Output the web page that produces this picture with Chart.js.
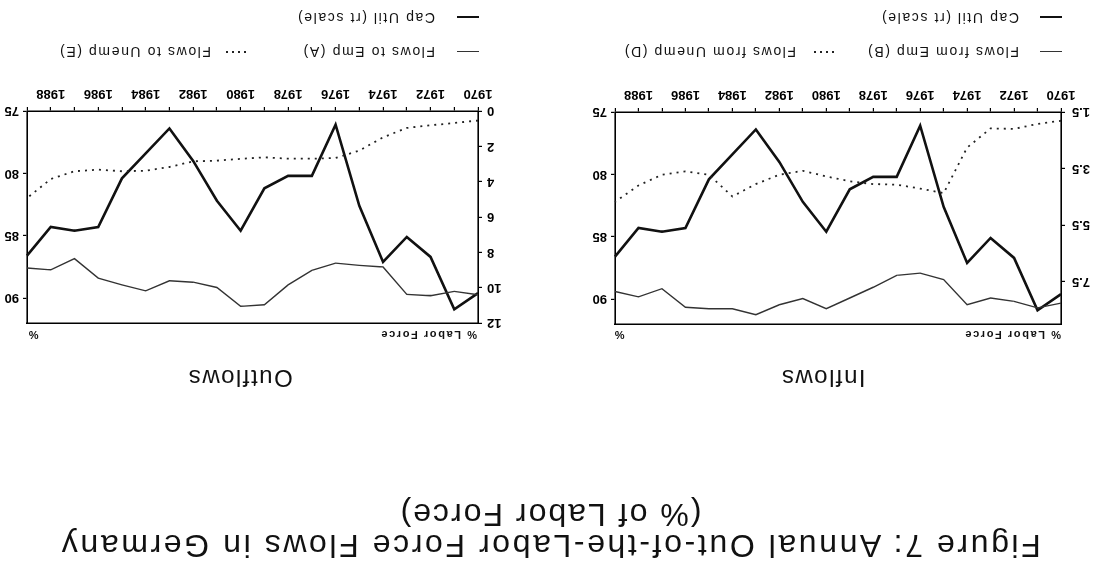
<!DOCTYPE html>
<html>
<head>
<title>Figure 7: Annual Out-of-the-Labor Force Flows in Germany</title>
<style>
body { margin: 0; background: #fff; overflow: hidden; }
/* the scanned figure is upside down, so the whole page is turned round */
#page { position: relative; width: 1100px; height: 579px; overflow: hidden; transform: rotate(180deg); font-family: "Liberation Sans", Arial, sans-serif; color: #111; }
.txt { position: absolute; white-space: nowrap; line-height: 1; }
.title { left: 0; width: 1100px; text-align: center; font-size: 32px; letter-spacing: 2px; }
.panel { width: 200px; text-align: center; font-size: 24px; letter-spacing: 1.5px; top: 189px; }
.unit { font-size: 11px; font-weight: bold; letter-spacing: 1.6px; top: 239px; }
.leg { font-size: 14px; letter-spacing: 1.6px; }
.swatch { position: absolute; width: 22px; }
.solid { height: 0; border-top: 1.5px solid #333; }
.thick { height: 0; border-top: 2.4px solid #111; }
.dots { height: 2px; width: 21px; background: repeating-linear-gradient(90deg, #222 0 2px, transparent 2px 6px); }
canvas { position: absolute; top: 240px; }
</style>
</head>
<body>
<div id="page">
    <div class="txt title" style="top: 17px; letter-spacing: 2.6px;">Figure 7: Annual Out-of-the-Labor Force Flows in Germany</div>
    <div class="txt title" style="top: 48px;">(% of Labor Force)</div>

    <div class="txt panel" style="left: 177px;">Inflows</div>
    <div class="txt panel" style="left: 760px;">Outflows</div>

    <div class="txt unit" style="left: 39px;">% Labor Force</div>
    <div class="txt unit" style="right: 613px;">%</div>
    <div class="txt unit" style="left: 623px;">% Labor Force</div>
    <div class="txt unit" style="right: 27px;">%</div>

    <canvas id="inflows" width="550" height="280" style="left: 0;"></canvas>
    <canvas id="outflows" width="550" height="280" style="left: 550px;"></canvas>

    <!-- legends -->
    <div class="swatch solid" style="left: 38px; top: 527px;"></div>
    <div class="txt leg" style="left: 81px; top: 520px;">Flows from Emp (B)</div>
    <div class="swatch dots" style="left: 266px; top: 526px;"></div>
    <div class="txt leg" style="left: 304px; top: 520px;">Flows from Unemp (D)</div>
    <div class="swatch thick" style="left: 38px; top: 561px;"></div>
    <div class="txt leg" style="left: 81px; top: 554px;">Cap Util (rt scale)</div>

    <div class="swatch solid" style="left: 621px; top: 527px;"></div>
    <div class="txt leg" style="left: 665px; top: 520px;">Flows to Emp (A)</div>
    <div class="swatch dots" style="left: 854px; top: 526px;"></div>
    <div class="txt leg" style="left: 889px; top: 520px;">Flows to Unemp (E)</div>
    <div class="swatch thick" style="left: 621px; top: 561px;"></div>
    <div class="txt leg" style="left: 665px; top: 554px;">Cap Util (rt scale)</div>
</div>

<script src="https://cdn.jsdelivr.net/npm/chart.js@4.4.0/dist/chart.umd.min.js"></script>
<script>
const years = ['1970', '1971', '1972', '1973', '1974', '1975', '1976', '1977', '1978', '1979',
               '1980', '1981', '1982', '1983', '1984', '1985', '1986', '1987', '1988', '1989'];
const labelYears = ['1970', '1972', '1974', '1976', '1978', '1980', '1982', '1984', '1986', '1988'];

// capacity utilisation, right scale (same series in both panels)
const capUtil = [89.6, 90.9, 86.7, 85.1, 87.1, 82.6, 76.1, 80.2, 80.2, 81.2,
                 84.6, 82.2, 79.0, 76.4, 78.4, 80.4, 84.3, 84.6, 84.3, 86.6];

// inflows, % of labor force
const flowsFromEmp = [8.26, 8.43, 8.20, 8.08, 8.32, 7.43, 7.20, 7.28, 7.70, 8.08,
                      8.46, 8.10, 8.32, 8.67, 8.46, 8.46, 8.41, 7.75, 8.04, 7.85];
const flowsFromUnemp = [1.81, 1.92, 2.10, 2.08, 2.76, 4.37, 4.21, 4.07, 4.05, 3.95,
                        3.78, 3.58, 3.72, 4.05, 4.49, 3.72, 3.60, 3.72, 4.10, 4.68];

// outflows, % of labor force
const flowsToEmp = [10.40, 10.21, 10.46, 10.38, 8.83, 8.74, 8.61, 9.02, 9.84, 10.97,
                    11.06, 9.99, 9.69, 9.61, 10.18, 9.84, 9.46, 8.36, 8.99, 8.89];
const flowsToUnemp = [0.54, 0.68, 0.81, 0.96, 1.49, 2.24, 2.66, 2.70, 2.70, 2.62,
                      2.71, 2.81, 2.85, 3.17, 3.38, 3.41, 3.32, 3.41, 3.85, 4.93];

const inflowTicks = [1.5, 3.5, 5.5, 7.5];
const outflowTicks = [0, 2, 4, 6, 8, 10, 12];
const capUtilTicks = [75, 80, 85, 90];

const tickFont = { family: 'Liberation Sans', size: 13, weight: 'bold' };
const axisGrid = { display: true, drawOnChartArea: false, drawTicks: true, tickLength: 4, tickColor: '#000', lineWidth: 1.2 };
const axisBorder = { display: true, color: '#000', width: 1.6 };

function makeChart(id, solidLabel, solidData, dotLabel, dotData, left) {
    const ctx = document.getElementById(id).getContext('2d');
    return new Chart(ctx, {
        type: 'line',
        data: {
            labels: years,
            datasets: [
                { label: solidLabel, data: solidData, yAxisID: 'y', borderColor: '#333', borderWidth: 1.4 },
                { label: dotLabel, data: dotData, yAxisID: 'y', borderColor: '#222', borderWidth: 1.8, borderDash: [2, 5] },
                { label: 'Cap Util (rt scale)', data: capUtil, yAxisID: 'y1', borderColor: '#111', borderWidth: 2.6 }
            ]
        },
        options: {
            responsive: false,
            animation: false,
            devicePixelRatio: 1,
            layout: { padding: { top: left.padTop, left: 0, right: 0, bottom: 0 } },
            elements: { point: { radius: 0 }, line: { tension: 0 } },
            plugins: { legend: { display: false }, tooltip: { enabled: false } },
            scales: {
                x: {
                    type: 'category',
                    offset: false,
                    grid: axisGrid,
                    border: axisBorder,
                    ticks: {
                        autoSkip: false, maxRotation: 0, padding: 6, color: '#000', font: tickFont,
                        callback: (v, i) => labelYears.includes(years[i]) ? years[i] : ''
                    },
                    afterFit: s => { s.height = left.bottomHeight; }
                },
                xTop: {
                    type: 'category',
                    labels: years,
                    position: 'top',
                    grid: { display: false },
                    border: axisBorder,
                    ticks: { display: false },
                    afterFit: s => { s.height = 0; }
                },
                y: {
                    position: 'left',
                    min: left.min,
                    max: left.max,
                    grid: axisGrid,
                    border: axisBorder,
                    ticks: { padding: left.pad, color: '#000', font: tickFont, callback: v => left.fmt(v) },
                    afterBuildTicks: s => { s.ticks = left.ticks.map(v => ({ value: v })); },
                    afterFit: s => { s.width = left.width; }
                },
                y1: {
                    position: 'right',
                    min: 75,
                    max: 92,
                    grid: axisGrid,
                    border: axisBorder,
                    ticks: { padding: 4, color: '#000', font: tickFont },
                    afterBuildTicks: s => { s.ticks = capUtilTicks.map(v => ({ value: v })); },
                    afterFit: s => { s.width = left.rightWidth; }
                }
            }
        }
    });
}

makeChart('inflows', 'Flows from Emp (B)', flowsFromEmp, 'Flows from Unemp (D)', flowsFromUnemp, {
    min: 1.5, max: 9, ticks: inflowTicks, fmt: v => v.toFixed(1), pad: 7,
    width: 39, rightWidth: 65, padTop: 15, bottomHeight: 53
});

makeChart('outflows', 'Flows to Emp (A)', flowsToEmp, 'Flows to Unemp (E)', flowsToUnemp, {
    min: 0, max: 12, ticks: outflowTicks, fmt: v => String(v), pad: 5,
    width: 72, rightWidth: 27, padTop: 16, bottomHeight: 52
});
</script>
</body>
</html>
